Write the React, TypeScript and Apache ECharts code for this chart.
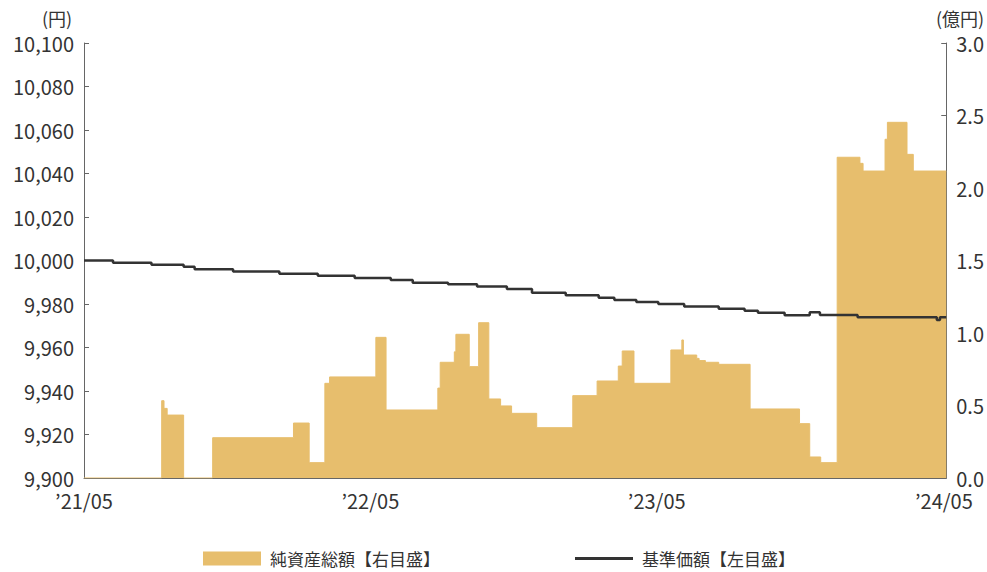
import React, { useEffect, useRef } from "react";
import * as echarts from "echarts";

const assetDates = [
  "2021-05-10", "2021-08-17", "2021-08-20", "2021-08-24", "2021-09-14", "2021-10-21",
  "2022-02-01", "2022-02-21", "2022-03-13", "2022-03-19", "2022-05-17", "2022-05-30",
  "2022-08-04", "2022-08-07", "2022-08-25", "2022-08-27", "2022-09-13", "2022-09-25",
  "2022-10-08", "2022-10-23", "2022-11-06", "2022-12-08", "2023-01-23", "2023-02-23",
  "2023-03-22", "2023-03-27", "2023-04-11", "2023-05-28", "2023-06-11", "2023-06-13",
  "2023-06-30", "2023-07-03", "2023-07-11", "2023-07-28", "2023-09-06", "2023-11-08",
  "2023-11-21", "2023-12-05", "2023-12-26", "2024-01-24", "2024-01-28", "2024-02-25",
  "2024-02-28", "2024-03-24", "2024-04-01", "2024-05-13",
];
const assetValues = [
  0, 0.533, 0.48, 0.434, 0, 0.278,
  0.379, 0.106, 0.653, 0.697, 0.97, 0.469,
  0.62, 0.798, 0.87, 0.991, 0.768, 1.071,
  0.545, 0.497, 0.446, 0.347, 0.568, 0.669,
  0.772, 0.876, 0.653, 0.883, 0.952, 0.848,
  0.825, 0.81, 0.798, 0.784, 0.476, 0.375,
  0.145, 0.106, 2.212, 2.17, 2.117, 2.336,
  2.453, 2.232, 2.117, 2.117,
];

const navDates = [
  "2021-05-10", "2021-06-16", "2021-08-04", "2021-09-14", "2021-09-28", "2021-11-16",
  "2022-01-14", "2022-03-04", "2022-04-20", "2022-06-05", "2022-07-03", "2022-08-17",
  "2022-09-23", "2022-10-31", "2022-12-02", "2023-01-14", "2023-02-25", "2023-03-17",
  "2023-04-14", "2023-05-12", "2023-06-14", "2023-07-28", "2023-08-30", "2023-09-16",
  "2023-10-20", "2023-11-21", "2023-12-04", "2024-01-21", "2024-05-01", "2024-05-05",
  "2024-05-13",
];
const navValues = [
  10000, 9999.0, 9998.1, 9997.1, 9996.0, 9994.9,
  9993.9, 9993.0, 9992.0, 9991.0, 9989.8, 9989.1,
  9988.0, 9986.9, 9985.2, 9984.0, 9982.9, 9981.8,
  9980.9, 9980.0, 9978.9, 9977.8, 9976.9, 9976.0,
  9974.8, 9976.2, 9974.9, 9973.9, 9972.6, 9973.9,
  9973.9,
];

const xTickDates = ["2021-05-10", "2022-05-10", "2023-05-10", "2024-05-10"];
const xTickLabels = ["’21/05", "’22/05", "’23/05", "’24/05"];
const xMin = "2021-05-10";
const xMax = "2024-05-13";

const assetName = "純資産総額【右目盛】";
const navName = "基準価額【左目盛】";
const leftUnit = "(円)";
const rightUnit = "(億円)";

const FONT = '"Noto Sans CJK JP", "Noto Sans", sans-serif';
const TEXT = "#333333";
const AXIS = "#666666";
const GOLD = "#E7BE6D";
const DARK = "#333333";

const DAY = 86400000;
const dayIndex = (s: string) => {
  const [y, m, d] = s.split("-").map(Number);
  const [y0, m0, d0] = xMin.split("-").map(Number);
  return Math.round((Date.UTC(y, m - 1, d) - Date.UTC(y0, m0 - 1, d0)) / DAY);
};

export default function App() {
  const ref = useRef<HTMLDivElement>(null);
  useEffect(() => {
    if (!ref.current) return;
    const chart = echarts.init(ref.current, undefined, { renderer: "svg" });
    const tickDays = xTickDates.map(dayIndex);
    chart.setOption({
      animation: false,
      textStyle: { fontFamily: FONT },
      grid: { left: 84, right: 39, top: 43, bottom: 94, containLabel: false },
      legend: {
        left: 198,
        top: 545,
        itemWidth: 58,
        itemHeight: 14,
        itemGap: 135,
        textStyle: { fontSize: 17, color: TEXT, fontFamily: FONT, padding: [0, 0, 0, 4] },
        data: [
          { name: assetName, icon: "rect", itemStyle: { color: GOLD } },
          { name: navName, icon: "path://M0,0L58,0L58,3L0,3Z", itemStyle: { color: DARK } },
        ],
      },
      graphic: [
        {
          type: "text",
          x: 57,
          y: 18,
          style: { text: leftUnit, fontSize: 18, fill: TEXT, fontFamily: FONT, align: "center", verticalAlign: "middle" },
        },
        {
          type: "text",
          x: 960,
          y: 18,
          style: { text: rightUnit, fontSize: 18, fill: TEXT, fontFamily: FONT, align: "center", verticalAlign: "middle" },
        },
      ],
      xAxis: {
        type: "value",
        min: dayIndex(xMin),
        max: dayIndex(xMax),
        axisLine: { lineStyle: { color: AXIS, width: 1 } },
        axisTick: { show: true, inside: true, length: 5, customValues: tickDays, lineStyle: { color: AXIS } },
        axisLabel: {
          customValues: tickDays,
          fontSize: 20,
          color: TEXT,
          fontFamily: FONT,
          margin: 12,
          formatter: (v: number) => {
            const i = tickDays.indexOf(Math.round(v));
            return i >= 0 ? xTickLabels[i] : "";
          },
        },
        splitLine: { show: false },
      },
      yAxis: [
        {
          type: "value",
          position: "left",
          min: 9900,
          max: 10100,
          interval: 20,
          axisLine: { show: true, lineStyle: { color: AXIS, width: 1 } },
          axisTick: { show: true, inside: true, length: 5, lineStyle: { color: AXIS } },
          axisLabel: {
            fontSize: 20,
            color: TEXT,
            fontFamily: FONT,
            margin: 10,
            formatter: (v: number) => v.toLocaleString("en-US"),
          },
          splitLine: { show: false },
        },
        {
          type: "value",
          position: "right",
          min: 0,
          max: 3,
          interval: 0.5,
          axisLine: { show: true, lineStyle: { color: AXIS, width: 1 } },
          axisTick: { show: true, inside: true, length: 5, lineStyle: { color: AXIS } },
          axisLabel: {
            fontSize: 20,
            color: TEXT,
            fontFamily: FONT,
            margin: 10,
            formatter: (v: number) => v.toFixed(1),
          },
          splitLine: { show: false },
        },
      ],
      series: [
        {
          name: assetName,
          type: "line",
          yAxisIndex: 1,
          step: "end",
          symbol: "none",
          showSymbol: false,
          lineStyle: { color: GOLD, width: 1 },
          itemStyle: { color: GOLD },
          areaStyle: { color: GOLD, opacity: 1 },
          data: assetDates.map((d, i) => [dayIndex(d), assetValues[i]]),
          z: 1,
        },
        {
          name: navName,
          type: "line",
          yAxisIndex: 0,
          step: "end",
          symbol: "none",
          showSymbol: false,
          lineStyle: { color: DARK, width: 2.5 },
          itemStyle: { color: DARK },
          data: navDates.map((d, i) => [dayIndex(d), navValues[i]]),
          z: 2,
        },
      ],
    });
    return () => chart.dispose();
  }, []);
  return <div ref={ref} style={{ position: "absolute", left: 0, top: 0, width: 987, height: 572 }} />;
}
